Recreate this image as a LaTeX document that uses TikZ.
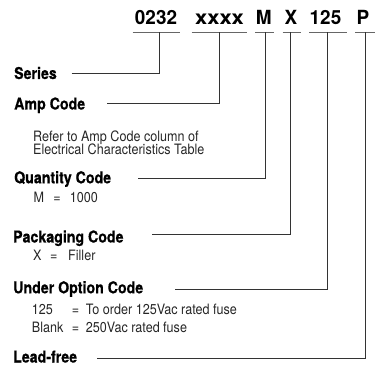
\documentclass[tikz,border=0pt]{standalone}
\usepackage{fontspec}
\newfontfamily\hdrfont{TeX Gyre Heros}[FakeStretch=0.97]
\newfontfamily\lblfont{TeX Gyre Heros}[FakeStretch=0.87,BoldFeatures={FakeBold=0.6}]
\newfontfamily\descfont{TeX Gyre Heros}[FakeStretch=0.88]
\begin{document}
\begin{tikzpicture}[x=1pt,y=-1pt,
  hdr/.style={anchor=base,inner sep=0,font=\hdrfont\bfseries\fontsize{19.5}{21}\selectfont},
  lbl/.style={anchor=base west,inner sep=0,font=\lblfont\bfseries\fontsize{16.3}{18}\selectfont},
  desc/.style={anchor=base west,inner sep=0,text=black!85,font=\descfont\fontsize{14.3}{16}\selectfont},
  uline/.style={draw=black!60,line width=1.2pt},
  conn/.style={draw=black!80,line width=1pt}]
\useasboundingbox (0,0) rectangle (375,366);
% header code
\node[hdr] (h1) at (156,25) {0232};
\node[hdr] (h2) at (219.5,25) {\scalebox{1.16}[1]{xxxx}};
\node[hdr] (h3) at (263.8,25) {M};
\node[hdr] (h4) at (291,25) {X};
\node[hdr] (h5) at (325.5,25) {125};
\node[hdr] (h6) at (363,25) {P};
% underlines
\coordinate (u1a) at (132.7,32.3); \coordinate (u1b) at (180,32.3);
\coordinate (u2a) at (191.7,32.3); \coordinate (u2b) at (246.7,32.3);
\coordinate (u3a) at (255,32.3);   \coordinate (u3b) at (274,32.3);
\coordinate (u4a) at (282.7,32.3); \coordinate (u4b) at (300.7,32.3);
\coordinate (u5a) at (309.3,32.3); \coordinate (u5b) at (346.7,32.3);
\coordinate (u6a) at (355,32.3);   \coordinate (u6b) at (375,32.3);
\foreach \i in {1,...,6} \draw[uline] (u\i a) -- (u\i b);
% vertical tops
\coordinate (t1) at (159,32.3);
\coordinate (t2) at (219.5,32.3);
\coordinate (t3) at (265.7,32.3);
\coordinate (t4) at (290.7,32.3);
\coordinate (t5) at (327.5,32.3);
\coordinate (t6) at (365,32.3);
% labels
\node[lbl] (series) at (14,79) {Series};
\node[lbl] (amp) at (14,109.5) {Amp Code};
\node[desc] (amp1) at (33,141.5) {Refer to Amp Code column of};
\node[desc] (amp2) at (33,154.5) {Electrical Characteristics Table};
\node[lbl] (qty) at (14,183.3) {Quantity Code};
\node[desc] (qty1) at (33.3,202.7) {\makebox[20pt][l]{M}\makebox[16.5pt][l]{=}1000};
\node[lbl] (pack) at (13,242.5) {Packaging Code};
\node[desc] (pack1) at (33,261) {\makebox[17pt][l]{X}\makebox[18pt][l]{=}Filler};
\node[lbl] (uoc) at (13,293.3) {Under Option Code};
\node[desc] (uoc1) at (31.7,314.5) {\makebox[40pt][l]{125}\makebox[14pt][l]{=}To order 125Vac rated fuse};
\node[desc] (uoc2) at (31.7,332) {\makebox[40pt][l]{Blank}\makebox[14pt][l]{=}250Vac rated fuse};
\node[lbl] (lead) at (13,362.5) {Lead-free};
% line starts
\coordinate (s1) at (71.7,74);
\coordinate (s2) at (107,103.3);
\coordinate (s3) at (138,178.5);
\coordinate (s4) at (152,235);
\coordinate (s5) at (175,289.5);
\coordinate (s6) at (97,358.3);
\foreach \i in {1,...,6} \draw[conn] (s\i) -| (t\i);
\end{tikzpicture}
\end{document}
